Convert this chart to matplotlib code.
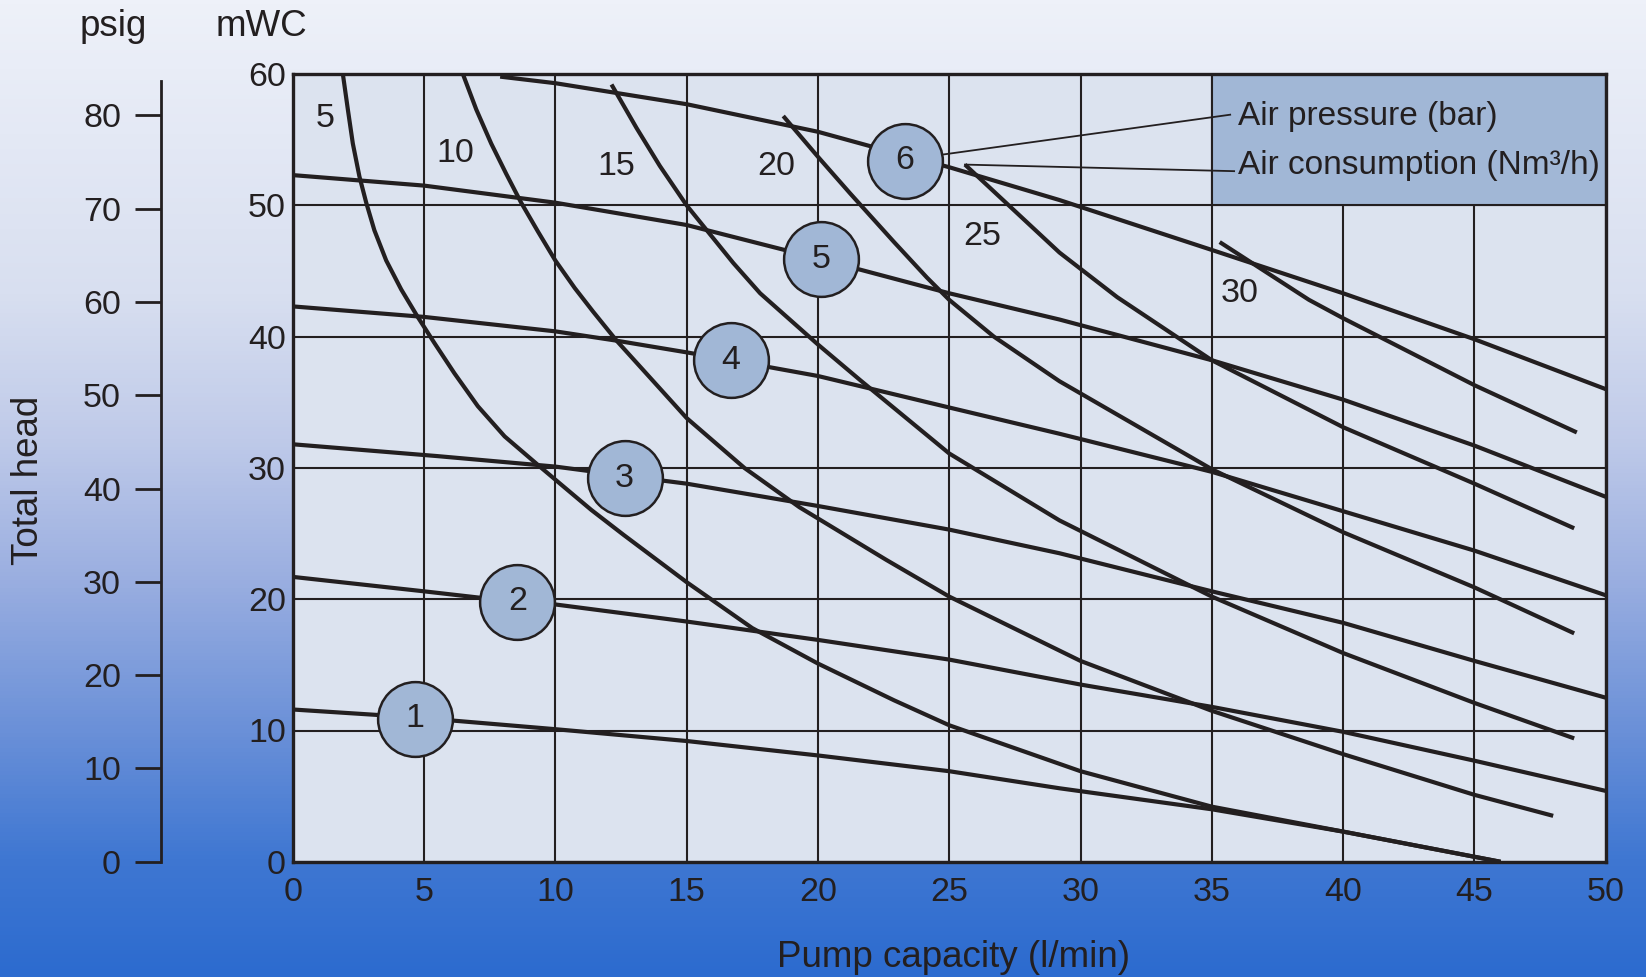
import matplotlib.pyplot as plt
import numpy as np
from matplotlib.colors import LinearSegmentedColormap
from matplotlib.patches import Rectangle

plt.rcParams['font.family'] = ['Liberation Sans', 'DejaVu Sans']

ink = '#231f20'
plot_bg = '#dce3ef'
badge = '#a1b7d6'

# pressure curves (bar): pump capacity l/min -> total head mWC
p1_x = [0, 4.65, 10, 15, 20, 25, 29.2, 35, 40, 46]
p1_y = [11.6, 11.0, 10.1, 9.2, 8.1, 6.9, 5.6, 4.0, 2.3, 0.0]
p2_x = [0, 5, 8.5, 10, 15, 20, 25, 30, 35, 40, 45, 50]
p2_y = [21.7, 20.6, 19.8, 19.6, 18.3, 16.9, 15.4, 13.5, 11.8, 9.9, 7.7, 5.4]
p3_x = [0, 5.5, 10, 12.65, 15, 20, 25, 29.2, 35, 40, 45, 50]
p3_y = [31.8, 30.9, 30.1, 29.4, 28.8, 27.1, 25.3, 23.5, 20.6, 18.2, 15.3, 12.5]
p4_x = [0, 5, 10, 12.3, 15, 16.7, 20, 25, 29.2, 35, 40, 45, 50]
p4_y = [42.3, 41.5, 40.4, 39.7, 38.8, 38.2, 37.0, 34.6, 32.6, 29.7, 26.7, 23.7, 20.3]
p5_x = [0, 5, 10, 15, 20.1, 25, 29.2, 35, 40, 45, 50]
p5_y = [52.3, 51.5, 50.2, 48.5, 45.9, 43.3, 41.3, 38.2, 35.2, 31.7, 27.8]
p6_x = [7.9, 10, 15, 20, 22, 25, 29.2, 35, 40, 45, 50]
p6_y = [59.8, 59.3, 57.7, 55.6, 54.5, 52.9, 50.4, 46.6, 43.3, 39.8, 36.0]

# air consumption curves (Nm3/h)
c5_x = [1.91, 2.10, 2.29, 2.54, 2.80, 3.11, 3.56, 4.13, 4.76, 5.40, 6.16, 7.05,
        8.07, 9.47, 10.36, 11.37, 12.6, 13.6, 15, 17.5, 20, 22.9, 25, 30, 35, 40, 46]
c5_y = [60, 57.3, 54.7, 52.2, 50.2, 48.1, 45.8, 43.6, 41.5, 39.5, 37.2, 34.7,
        32.4, 30.0, 28.5, 26.8, 24.9, 23.4, 21.3, 17.8, 15.1, 12.3, 10.4, 6.9, 4.2, 2.3, 0.0]
c10_x = [6.48, 6.99, 7.56, 8.13, 8.70, 9.34, 10.0, 10.74, 11.44, 12.33, 15, 17.2,
         19.3, 22.6, 25, 30, 35, 40, 45, 48]
c10_y = [60, 57.3, 54.7, 52.4, 50.2, 48.0, 45.8, 43.7, 41.9, 39.7, 33.8, 30.0,
         27.0, 23.0, 20.2, 15.3, 11.5, 8.2, 5.1, 3.5]
c15_x = [12.14, 13.09, 13.98, 15, 16.78, 17.8, 20, 21.6, 25, 29.2, 35, 40, 45, 48.8]
c15_y = [59.2, 55.9, 53.0, 50.0, 45.6, 43.3, 39.4, 36.7, 31.1, 26.0, 20.2, 15.9, 12.1, 9.4]
c20_x = [18.68, 20, 21.23, 22.9, 24.15, 25, 26.7, 29.2, 35, 40, 45, 48.8]
c20_y = [56.8, 53.7, 50.9, 47.2, 44.5, 42.8, 40.0, 36.6, 29.9, 25.1, 20.9, 17.4]
c25_x = [25.6, 29.2, 31.4, 35, 40, 45, 48.8]
c25_y = [53.1, 46.4, 43.0, 38.2, 33.1, 28.8, 25.4]
c30_x = [35.3, 38.7, 40, 45, 48.9]
c30_y = [47.2, 42.8, 41.4, 36.3, 32.7]

pressure_curves = [(p1_x, p1_y), (p2_x, p2_y), (p3_x, p3_y),
                   (p4_x, p4_y), (p5_x, p5_y), (p6_x, p6_y)]
consumption_curves = [(c5_x, c5_y), (c10_x, c10_y), (c15_x, c15_y),
                      (c20_x, c20_y), (c25_x, c25_y), (c30_x, c30_y)]

pressure_labels = ['1', '2', '3', '4', '5', '6']
badge_x = [4.64, 8.56, 12.64, 16.68, 20.11, 23.31]
badge_y = [10.9, 19.8, 29.2, 38.2, 45.9, 53.4]

consumption_labels = ['5', '10', '15', '20', '25', '30']
clabel_x = [1.23, 6.2, 12.34, 18.43, 26.24, 36.07]
clabel_y = [56.6, 53.95, 52.94, 52.94, 47.6, 43.3]

psig_ticks = [0, 10, 20, 30, 40, 50, 60, 70, 80]
mwc_per_psig = 0.7106

W, H = 1646, 977
fig = plt.figure(figsize=(W / 100, H / 100), dpi=100)

# background gradient
bg = fig.add_axes([0, 0, 1, 1], zorder=-10)
stops = [(0.0, '#eef1f9'), (0.3, '#d8dff0'), (0.45, '#bfcae9'), (0.6, '#98ade0'),
         (0.75, '#6a90d8'), (0.88, '#3f77d2'), (1.0, '#2c6bcf')]
cmap = LinearSegmentedColormap.from_list('bg', stops)
bg.imshow(np.linspace(0, 1, 256).reshape(-1, 1), aspect='auto', cmap=cmap,
          extent=[0, 1, 0, 1])
bg.axis('off')

left, right = 292.7 / W, 1605.7 / W
bottom, top = 1 - 861.8 / H, 1 - 74 / H
ax = fig.add_axes([left, bottom, right - left, top - bottom])
ax.set_facecolor(plot_bg)
ax.set_xlim(0, 50)
ax.set_ylim(0, 60)
ax.set_xticks(np.arange(0, 51, 5))
ax.set_yticks(np.arange(0, 61, 10))
ax.grid(True, color=ink, lw=1.5, zorder=1)
ax.set_axisbelow(True)
for s in ax.spines.values():
    s.set_color(ink)
    s.set_linewidth(2.4)
ax.tick_params(length=0, labelsize=24.5, colors=ink)
ax.tick_params(axis='x', pad=11)
ax.tick_params(axis='y', pad=5)

# legend box
ax.add_patch(Rectangle((35, 50), 15, 10, facecolor=badge, edgecolor=ink,
                       lw=1.5, zorder=2))
ax.text(36.0, 56.75, 'Air pressure (bar)', fontsize=24, color=ink,
        va='center', ha='left', zorder=6)
ax.text(36.0, 53.0, 'Air consumption (Nm³/h)', fontsize=24, color=ink,
        va='center', ha='left', zorder=6)
ax.plot([24.7, 35.7], [53.85, 56.9], color=ink, lw=1.3, zorder=3)
ax.plot([25.6, 35.85], [53.1, 52.6], color=ink, lw=1.3, zorder=3)

for cx, cy in consumption_curves:
    ax.plot(cx, cy, color=ink, lw=3.0, solid_capstyle='butt',
            solid_joinstyle='round', zorder=3)
for px, py in pressure_curves:
    ax.plot(px, py, color=ink, lw=3.0, solid_capstyle='butt',
            solid_joinstyle='round', zorder=3)

ax.scatter(badge_x, badge_y, s=2900, facecolor=badge, edgecolor=ink,
           linewidth=1.8, zorder=4)
for t, bx, by in zip(pressure_labels, badge_x, badge_y):
    ax.text(bx, by, t, fontsize=24.5, color=ink, ha='center', va='center',
            zorder=5)
for t, lx, ly in zip(consumption_labels, clabel_x, clabel_y):
    ax.text(lx, ly, t, fontsize=24.5, color=ink, ha='center', va='center',
            zorder=5)

# psig scale on the left
ax2 = fig.add_axes([160.6 / W, bottom, 0.001, top - bottom])
ax2.set_ylim(0, 60 / mwc_per_psig)
ax2.patch.set_visible(False)
for k in ['top', 'right', 'bottom']:
    ax2.spines[k].set_visible(False)
ax2.spines['left'].set_bounds(0, 59.5 / mwc_per_psig)
ax2.spines['left'].set_color(ink)
ax2.spines['left'].set_linewidth(2.0)
ax2.set_xticks([])
ax2.set_yticks(psig_ticks)
ax2.tick_params(axis='y', length=18.5, width=2.0, pad=10, labelsize=24.5,
                colors=ink)

fig.text(113.6 / W, 1 - 36 / H, 'psig', fontsize=26.5, color=ink,
         ha='center', va='baseline')
fig.text(261.5 / W, 1 - 36 / H, 'mWC', fontsize=26.5, color=ink,
         ha='center', va='baseline')
fig.text(29 / W, 1 - 480 / H, 'Total head', fontsize=26.5, color=ink,
         ha='center', va='center', rotation=90)
fig.text(953.6 / W, 1 - 967 / H, 'Pump capacity (l/min)', fontsize=26.5,
         color=ink, ha='center', va='baseline')

fig.savefig('out.png', dpi=100)
